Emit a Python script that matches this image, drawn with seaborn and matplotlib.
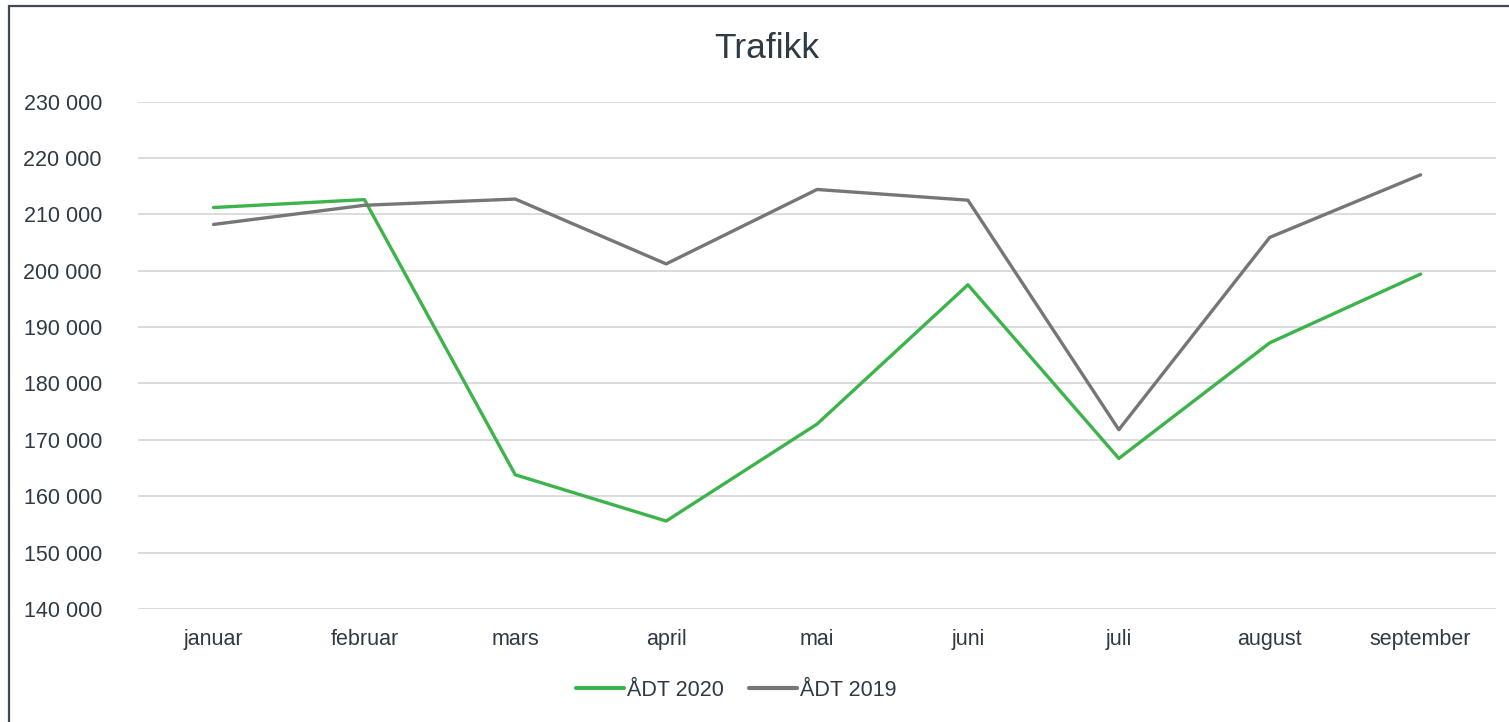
import pandas as pd
import matplotlib.pyplot as plt
import matplotlib.ticker as mticker
from matplotlib.patches import Rectangle
import seaborn as sns

# Data
months = ['januar', 'februar', 'mars', 'april', 'mai', 'juni', 'juli', 'august', 'september']
adt_2020 = [211200, 212600, 163800, 155600, 172800, 197500, 166700, 187200, 199400]
adt_2019 = [208200, 211600, 212700, 201200, 214400, 212500, 171800, 205900, 217000]
series = ['ÅDT 2020', 'ÅDT 2019']
colors = ['#3CB44B', '#767676']

df = pd.DataFrame({
    'måned': months * 2,
    'ÅDT': adt_2020 + adt_2019,
    'serie': [series[0]] * len(months) + [series[1]] * len(months),
})

sns.set_style('white')
plt.rcParams['font.family'] = ['Liberation Sans', 'DejaVu Sans']
text_color = '#2E3A44'

fig = plt.figure(figsize=(15.09, 7.22), dpi=100)
ax = fig.add_axes([0.0915, 0.1565, 0.8999, 0.7029])

sns.lineplot(data=df, x='måned', y='ÅDT', hue='serie', palette=dict(zip(series, colors)),
             sort=False, linewidth=2.4, ax=ax, legend=False)

ax.set_xlim(-0.5, len(months) - 0.5)
ax.set_ylim(140000, 230000)
ax.set_yticks(range(140000, 230001, 10000))
ax.yaxis.set_major_formatter(mticker.FuncFormatter(lambda v, p: f'{int(v):,}'.replace(',', ' ')))
ax.grid(axis='y', color='#D9D9D9', linewidth=1.3)
ax.grid(axis='x', visible=False)
ax.set_axisbelow(True)
for s in ax.spines.values():
    s.set_visible(False)
ax.tick_params(axis='both', length=0, labelsize=15.5, colors=text_color)
ax.tick_params(axis='y', pad=26)
ax.tick_params(axis='x', pad=14.5)
ax.set_xlabel('')
ax.set_ylabel('')

fig.text(0.508, 0.933, 'Trafikk', ha='center', va='center', fontsize=25.5, color=text_color)

handles = [plt.Line2D([], [], color=c, linewidth=3, solid_capstyle='round') for c in colors]
fig.legend(handles, series, loc='center', bbox_to_anchor=(0.488, 0.044), ncol=2, frameon=False,
           fontsize=15.5, labelcolor=text_color, handlelength=2.2, handletextpad=0.15, columnspacing=1.2)

# outer chart border (only top and left visible in the crop)
fig.patches.append(Rectangle((8.5 / 1509, -0.1), 1.2, 0.1 + 1 - 6 / 722, transform=fig.transFigure,
                             fill=False, edgecolor='#3F4A55', linewidth=1.6))

fig.savefig('out.png', dpi=100)
